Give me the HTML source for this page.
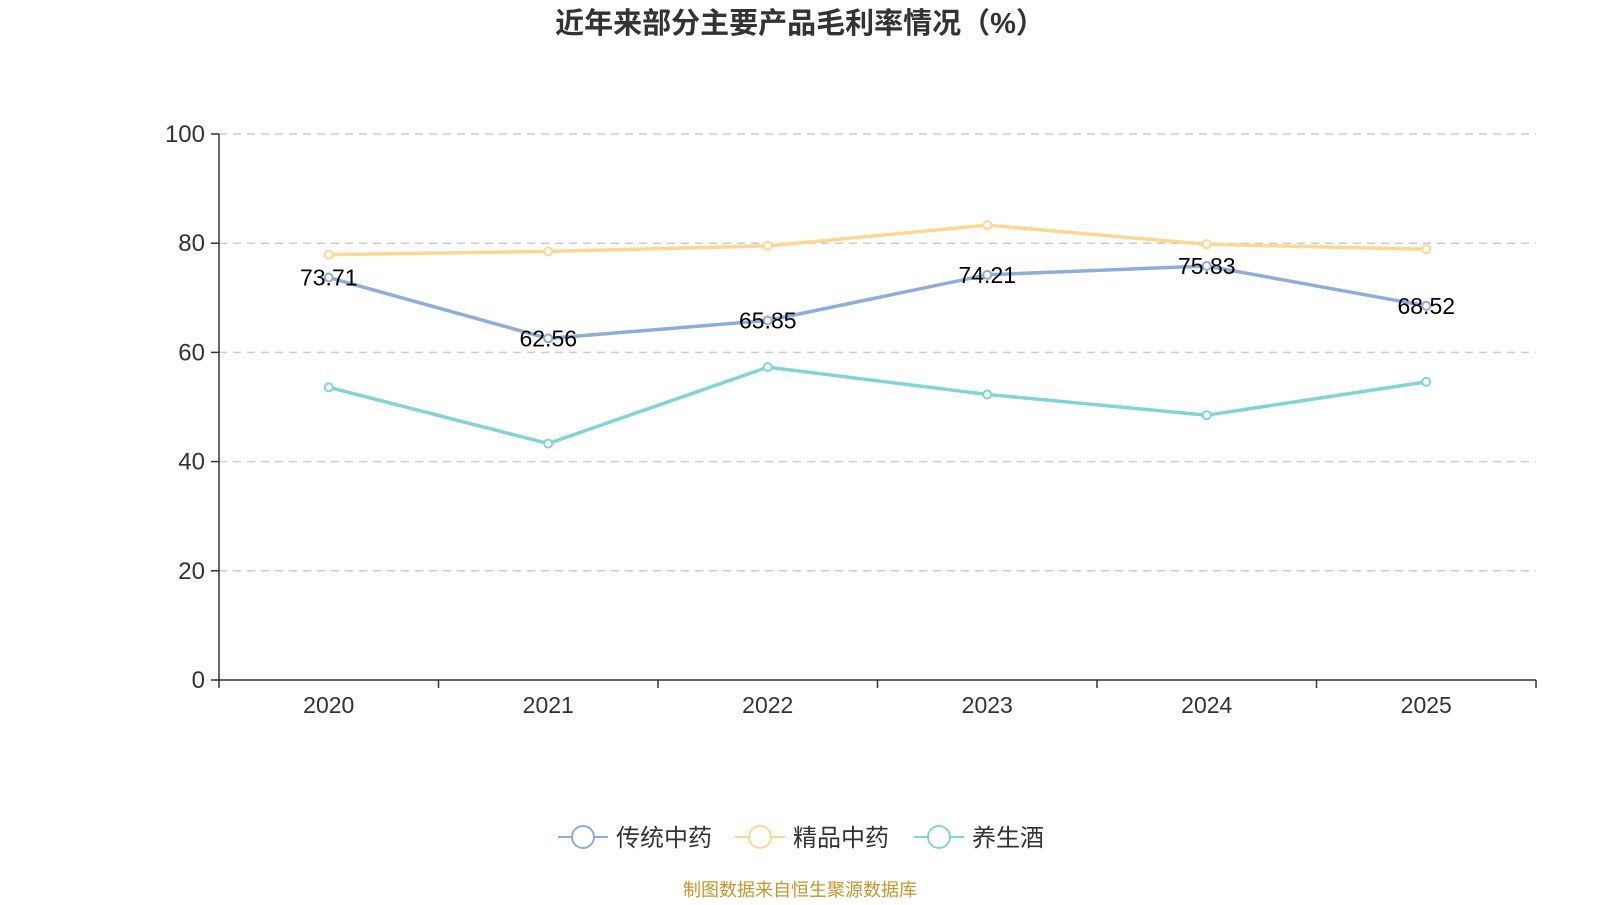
<!DOCTYPE html>
<html><head><meta charset="utf-8"><style>
body{margin:0;background:#fff;width:1600px;height:900px;overflow:hidden;font-family:"Liberation Sans","Noto Sans CJK SC",sans-serif}
</style></head><body>
<svg id="c" width="1600" height="900" xmlns="http://www.w3.org/2000/svg">
<text x="800" y="33" text-anchor="middle" font-size="29" font-weight="bold" fill="#333" font-family="Liberation Sans,Noto Sans CJK SC,sans-serif">近年来部分主要产品毛利率情况（%）</text>
<text x="800" y="896" text-anchor="middle" font-size="18" fill="#c8962a" font-family="Liberation Sans,Noto Sans CJK SC,sans-serif">制图数据来自恒生聚源数据库</text>
</svg>
<script>
const categories=["2020","2021","2022","2023","2024","2025"];
const yTicks=[0,20,40,60,80,100];
const s1=[73.71,62.56,65.85,74.21,75.83,68.52];
const s2=[77.9,78.5,79.5,83.3,79.8,78.9];
const s3=[53.6,43.3,57.3,52.3,48.5,54.6];
const names=["传统中药","精品中药","养生酒"];
const colors=["#8eadda","#fdd891","#83d4d6"];
const svg=document.getElementById('c');const NS="http://www.w3.org/2000/svg";
const X0=219,X1=1536,Y0=680,Y1=134;
const bw=(X1-X0)/categories.length;
const x=i=>X0+bw*(i+0.5), y=v=>Y0-(v/100)*(Y0-Y1);
function mk(t,a){const e=document.createElementNS(NS,t);for(const k in a)e.setAttribute(k,a[k]);svg.appendChild(e);return e;}
yTicks.forEach(t=>{
 if(t>0){const g=mk('line',{x1:X0,x2:X1,y1:y(t),y2:y(t),stroke:'#ccc','stroke-dasharray':'8,6','stroke-width':1.5});
 
 }
 const tk=mk('line',{x1:X0-8,x2:X0,y1:y(t),y2:y(t),stroke:'#333','stroke-width':1.5});
 
 
 const l=mk('text',{x:X0-14,y:y(t)+8,'text-anchor':'end','font-size':24,fill:'#333'});l.textContent=t;
 
 
});
const ya=mk('line',{x1:X0,x2:X0,y1:Y1,y2:Y0,stroke:'#333','stroke-width':1.5});


const xa=mk('line',{x1:X0,x2:X1,y1:Y0,y2:Y0,stroke:'#333','stroke-width':1.5});


for(let i=0;i<=categories.length;i++){const t=mk('line',{x1:X0+bw*i,x2:X0+bw*i,y1:Y0,y2:Y0+8,stroke:'#333','stroke-width':1.5});
 
 }
categories.forEach((c,i)=>{const l=mk('text',{x:x(i),y:Y0+33,'text-anchor':'middle','font-size':23,fill:'#333'});l.textContent=c;
 
 });
[s1,s2,s3].forEach((s,k)=>{
 const p=mk('polyline',{points:s.map((v,i)=>x(i)+','+y(v)).join(' '),fill:'none',stroke:colors[k],'stroke-width':3.5});
 
 
 s.forEach((v,i)=>{const c=mk('circle',{cx:x(i),cy:y(v),r:4,fill:'#fff',stroke:colors[k],'stroke-width':2});
  
  });
});
s1.forEach((v,i)=>{const l=mk('text',{x:x(i),y:y(v)+8,'text-anchor':'middle','font-size':23,fill:'#000'});l.textContent=v.toFixed(2);
 
 });
const lx=[558,735,914];
names.forEach((n,k)=>{
 const ly=837;
 const a=mk('line',{x1:lx[k],x2:lx[k]+50,y1:ly,y2:ly,stroke:colors[k],'stroke-width':2});
 
 
 const c=mk('circle',{cx:lx[k]+25,cy:ly,r:11,fill:'#fff',stroke:colors[k],'stroke-width':2});
 
 
 const t=mk('text',{x:lx[k]+58,y:ly+9,'font-size':24,fill:'#333'});t.textContent=n;
 
 
});
</script>
</body></html>
